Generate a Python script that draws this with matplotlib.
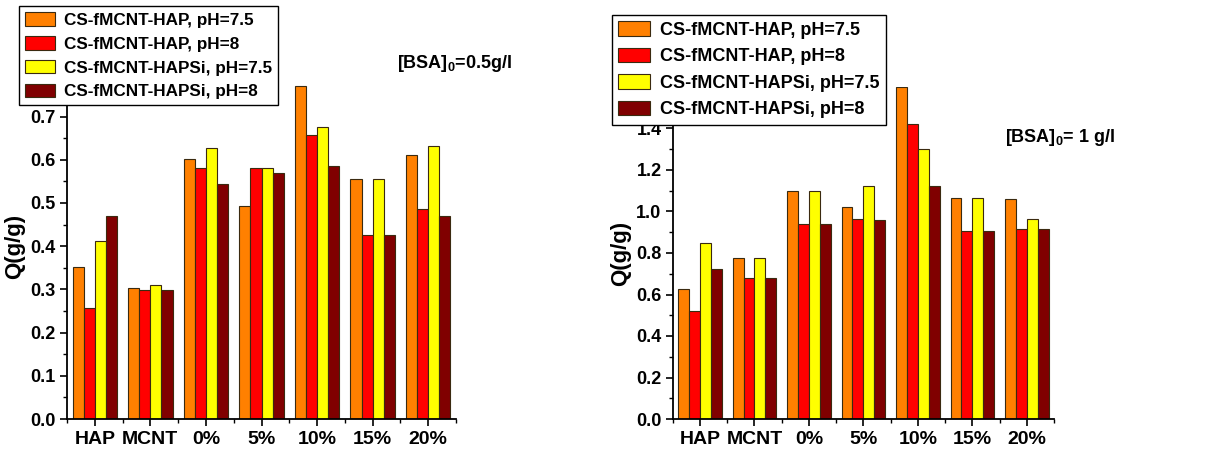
import numpy as np
import matplotlib
matplotlib.use("Agg")
import matplotlib.pyplot as plt
from matplotlib.ticker import MultipleLocator, FixedLocator

FAM = 'Liberation Sans'
plt.rcParams['font.family'] = [FAM, 'DejaVu Sans']
plt.rcParams['font.weight'] = 'bold'
plt.rcParams['mathtext.fontset'] = 'custom'
plt.rcParams['mathtext.bf'] = FAM + ':bold'
plt.rcParams['mathtext.rm'] = FAM + ':bold'
plt.rcParams['mathtext.default'] = 'bf'

categories = ["HAP", "MCNT", "0%", "5%", "10%", "15%", "20%"]
series_labels = ["CS-fMCNT-HAP, pH=7.5", "CS-fMCNT-HAP, pH=8",
                 "CS-fMCNT-HAPSi, pH=7.5", "CS-fMCNT-HAPSi, pH=8"]
colors = ["#FF8000", "#FF0000", "#FFFF00", "#800000"]

# [BSA]0 = 0.5 g/l
left_hap75 = [0.353, 0.304, 0.601, 0.492, 0.771, 0.556, 0.610]
left_hap8 = [0.258, 0.299, 0.580, 0.580, 0.658, 0.425, 0.486]
left_hapsi75 = [0.413, 0.310, 0.628, 0.582, 0.675, 0.556, 0.633]
left_hapsi8 = [0.471, 0.299, 0.545, 0.570, 0.586, 0.425, 0.471]

# [BSA]0 = 1 g/l
right_hap75 = [0.626, 0.777, 1.100, 1.024, 1.601, 1.064, 1.061]
right_hap8 = [0.519, 0.679, 0.941, 0.962, 1.422, 0.907, 0.917]
right_hapsi75 = [0.848, 0.777, 1.100, 1.124, 1.300, 1.064, 0.965]
right_hapsi8 = [0.724, 0.679, 0.938, 0.957, 1.124, 0.907, 0.917]

fig = plt.figure(figsize=(12.14, 4.54), dpi=100)
W, H = 1214, 454

def make_axes(x0, x1, ybot, ytop):
    return fig.add_axes([x0 / W, 1 - ybot / H, (x1 - x0) / W, (ybot - ytop) / H])

axL = make_axes(67, 456, 419, 73.4)
axR = make_axes(672.7, 1054, 419, 87)

def draw(ax, data, ymax, major, minor, leg_anchor, leg_size, leg_spacing):
    x = np.arange(len(categories))
    w = 0.2
    handles = []
    for i, (vals, c, lab) in enumerate(zip(data, colors, series_labels)):
        b = ax.bar(x + (i - 1.5) * w, vals, width=w, color=c,
                   edgecolor="#3a2a10", linewidth=0.8, label=lab)
        handles.append(b)
    ax.set_xlim(-0.5, len(categories) - 0.5)
    ax.set_ylim(0, ymax)
    ax.set_xticks(x)
    ax.set_xticklabels(categories, fontsize=14, fontweight='bold')
    ax.xaxis.set_minor_locator(FixedLocator(np.arange(-0.5, len(categories), 1.0)))
    ax.yaxis.set_major_locator(MultipleLocator(major))
    ax.yaxis.set_minor_locator(MultipleLocator(minor))
    ax.yaxis.set_major_formatter(plt.FormatStrFormatter('%.1f'))
    for lbl in ax.get_yticklabels():
        lbl.set_fontweight('bold')
        lbl.set_fontsize(13)
    ax.tick_params(axis='both', which='major', direction='out', length=5, width=1.2)
    ax.tick_params(axis='both', which='minor', direction='out', length=3, width=1.0)
    ax.tick_params(axis='x', which='major', pad=4)
    ax.tick_params(axis='y', which='major', pad=3)
    for s in ['top', 'right']:
        ax.spines[s].set_visible(False)
    for s in ['left', 'bottom']:
        ax.spines[s].set_linewidth(1.3)
    ax.set_ylabel("Q(g/g)", fontsize=16, fontweight='bold', labelpad=4)
    leg = fig.legend(handles=handles, labels=series_labels, loc='upper left',
                     bbox_to_anchor=leg_anchor, bbox_transform=fig.transFigure,
                     fancybox=False, framealpha=1, edgecolor='black',
                     prop={'weight': 'bold', 'size': leg_size}, handlelength=1.75,
                     handleheight=0.85, labelspacing=leg_spacing, borderpad=0.35,
                     handletextpad=0.55, borderaxespad=0)
    leg.get_frame().set_linewidth(1.0)
    return leg

draw(axL, [left_hap75, left_hap8, left_hapsi75, left_hapsi8], 0.8, 0.1, 0.05,
     (19 / W, 1 - 6 / H), 12.3, 0.48)
draw(axR, [right_hap75, right_hap8, right_hapsi75, right_hapsi8], 1.6, 0.2, 0.1,
     (612 / W, 1 - 15 / H), 13.0, 0.5)

fig.text(397 / W, 1 - 63 / H, r"[BSA]$_0$=0.5g/l", fontsize=13, fontweight='bold',
         va='center', ha='left')
fig.text(1005 / W, 1 - 137 / H, r"[BSA]$_0$= 1 g/l", fontsize=13, fontweight='bold',
         va='center', ha='left')

fig.savefig("out.png", dpi=100)
